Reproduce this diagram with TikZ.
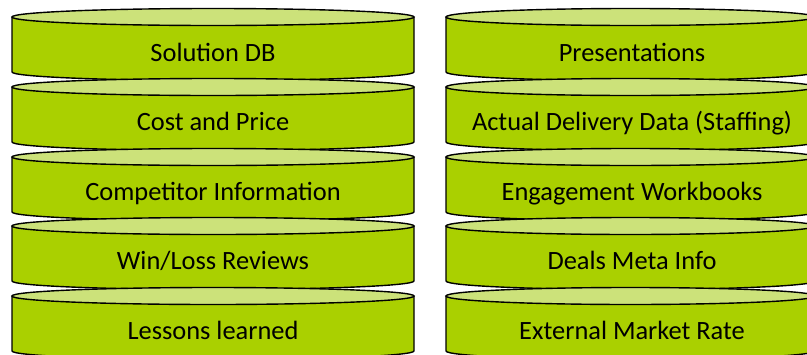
\documentclass[tikz,border=0pt]{standalone}
\usepackage{fontspec}
\setmainfont{Carlito}
\usepackage{tikz}
\definecolor{diskbody}{RGB}{170,208,0}
\definecolor{disktop}{RGB}{204,226,122}

\begin{document}
\begin{tikzpicture}[x=1pt,y=1pt]
\tikzstyle{every node}+=[inner sep=0pt]
\tikzstyle{disk}=[draw=black, line width=1.4pt, fill=diskbody, line join=round]
\tikzstyle{diskcap}=[draw=black, line width=1.4pt, fill=disktop]
\tikzstyle{dbtext}=[font=\fontsize{26.4}{30}\selectfont, anchor=base]
\useasboundingbox (0,0) rectangle (807,-354);
\clip (0,0) rectangle (807,-354);
% left stack
\draw [disk] (12,-17) -- (12,-72) arc (180:360:201 and 8.5) -- (414,-17) -- cycle;
\draw [diskcap] (213,-17) ellipse (201 and 8.5);
\node (sdb) [dbtext] at (213,-61) {Solution DB};
\draw [disk] (12,-87) -- (12,-142) arc (180:360:201 and 8.5) -- (414,-87) -- cycle;
\draw [diskcap] (213,-87) ellipse (201 and 8.5);
\node (cost) [dbtext] at (213,-130) {Cost and Price};
\draw [disk] (12,-157) -- (12,-212) arc (180:360:201 and 8.5) -- (414,-157) -- cycle;
\draw [diskcap] (213,-157) ellipse (201 and 8.5);
\node (comp) [dbtext] at (213,-200) {Competitor Information};
\draw [disk] (12,-226) -- (12,-281) arc (180:360:201 and 8.5) -- (414,-226) -- cycle;
\draw [diskcap] (213,-226) ellipse (201 and 8.5);
\node (winloss) [dbtext] at (213,-269) {Win/Loss Reviews};
\draw [disk] (12,-296) -- (12,-351) arc (180:360:201 and 8.5) -- (414,-296) -- cycle;
\draw [diskcap] (213,-296) ellipse (201 and 8.5);
\node (lessons) [dbtext] at (213,-339) {Lessons learned};
% right stack
\draw [disk] (446,-17) -- (446,-72) arc (180:360:184.5 and 8.5) -- (815,-17) -- cycle;
\draw [diskcap] (630.5,-17) ellipse (184.5 and 8.5);
\node (pres) [dbtext] at (632,-61) {Presentations};
\draw [disk] (446,-87) -- (446,-142) arc (180:360:184.5 and 8.5) -- (815,-87) -- cycle;
\draw [diskcap] (630.5,-87) ellipse (184.5 and 8.5);
\node (deliv) [dbtext] at (632,-130) {Actual Delivery Data (Staffing)};
\draw [disk] (446,-157) -- (446,-212) arc (180:360:184.5 and 8.5) -- (815,-157) -- cycle;
\draw [diskcap] (630.5,-157) ellipse (184.5 and 8.5);
\node (engage) [dbtext] at (632,-200) {Engagement Workbooks};
\draw [disk] (446,-226) -- (446,-281) arc (180:360:184.5 and 8.5) -- (815,-226) -- cycle;
\draw [diskcap] (630.5,-226) ellipse (184.5 and 8.5);
\node (deals) [dbtext] at (632,-269) {Deals Meta Info};
\draw [disk] (446,-296) -- (446,-351) arc (180:360:184.5 and 8.5) -- (815,-296) -- cycle;
\draw [diskcap] (630.5,-296) ellipse (184.5 and 8.5);
\node (extrate) [dbtext] at (632,-339) {External Market Rate};
\end{tikzpicture}
\end{document}
